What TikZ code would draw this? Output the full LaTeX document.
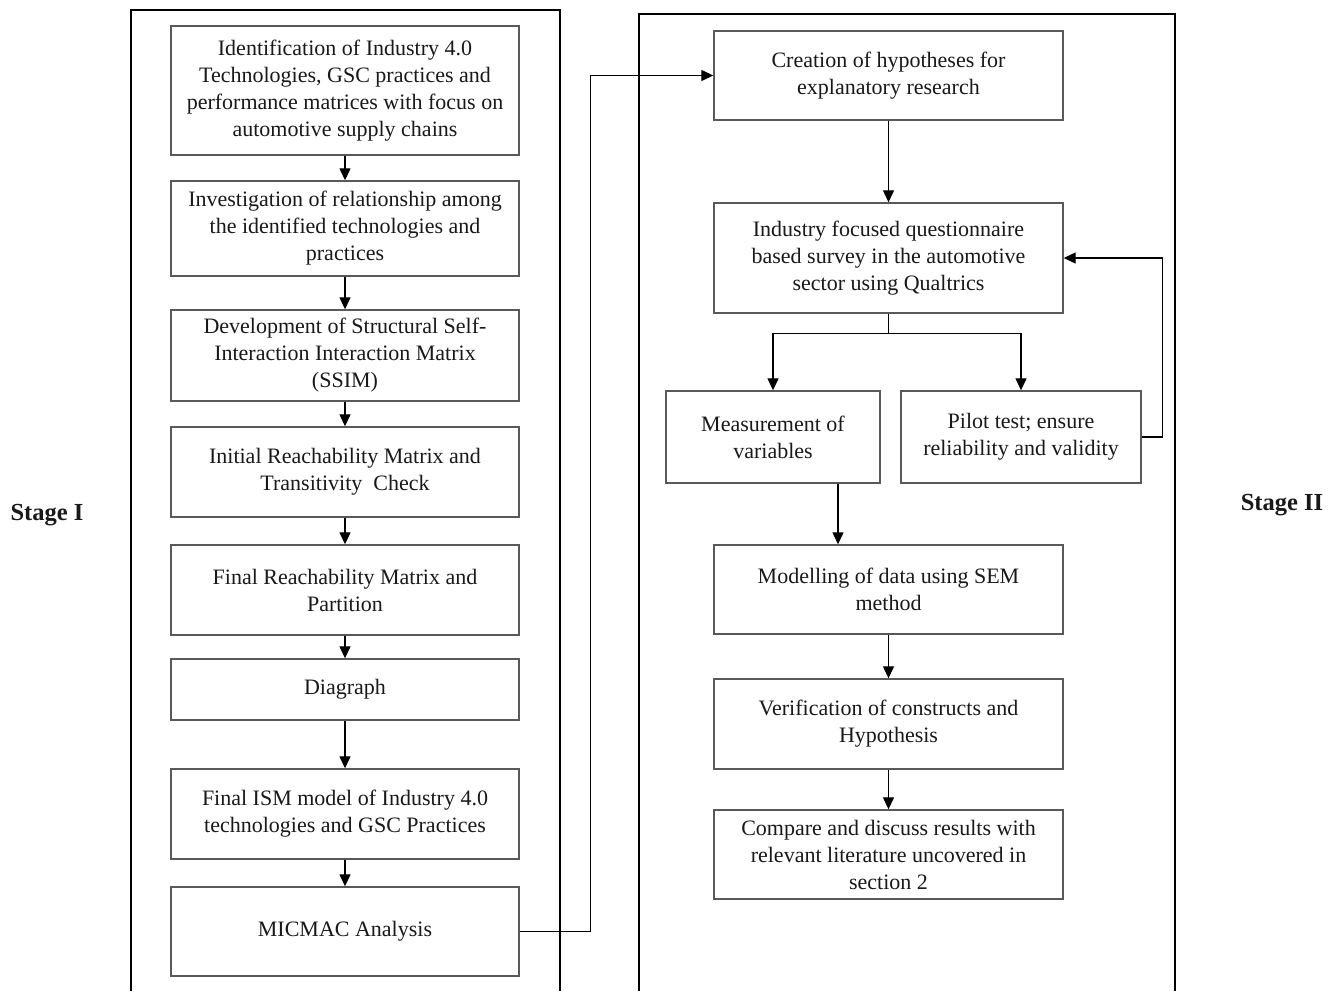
\documentclass[tikz,border=0pt]{standalone}
\usepackage{fontspec}
\setmainfont{Liberation Serif}
\usetikzlibrary{arrows.meta}

\begin{document}
\begin{tikzpicture}[x=1pt, y=-1pt]
        \tikzstyle{box}=[draw=black!65,line width=1.4pt,fill=white,text=black!90,align=center,inner sep=2pt,font=\fontsize{22}{27}\selectfont]
        \tikzstyle{frame}=[draw=black,line width=2.4pt]
        \tikzstyle{flow}=[draw=black,line width=1.3pt,-{Triangle[length=12pt,width=11pt]}]
        \tikzstyle{stage}=[font=\fontsize{24.5}{28}\selectfont\bfseries,text=black!90]

        \useasboundingbox (0,0) rectangle (1338,991);

        \draw[frame] (131,991) -- (131,10) -- (560,10) -- (560,991);
        \draw[frame] (639,991) -- (639,14) -- (1175,14) -- (1175,991);

        \node[stage] (stage_1) at (47,515) {Stage I};
        \node[stage] (stage_2) at (1282,505) {Stage II};

        \node[box,minimum width=348pt,minimum height=129pt] (S_1) at (345,90.5) {Identification of Industry 4.0\\Technologies, GSC practices and\\performance matrices with focus on\\automotive supply chains};
        \node[box,minimum width=348pt,minimum height=95pt] (S_2) at (345,228.5) {Investigation of relationship among\\the identified technologies and\\practices};
        \node[box,minimum width=348pt,minimum height=91pt] (S_3) at (345,355.5) {Development of Structural Self-\\Interaction Interaction Matrix\\(SSIM)};
        \node[box,minimum width=348pt,minimum height=90pt] (S_4) at (345,472) {Initial Reachability Matrix and\\Transitivity~ Check};
        \node[box,minimum width=348pt,minimum height=90pt] (S_5) at (345,590) {Final Reachability Matrix and\\Partition};
        \node[box,minimum width=348pt,minimum height=61pt] (S_6) at (345,689.5) {Diagraph};
        \node[box,minimum width=348pt,minimum height=90pt] (S_7) at (345,814) {Final ISM model of Industry 4.0\\technologies and GSC Practices};
        \node[box,minimum width=348pt,minimum height=89pt] (S_8) at (345,931.5) {MICMAC Analysis};

        \node[box,minimum width=349pt,minimum height=89pt] (T_1) at (888.5,75.5) {Creation of hypotheses for\\explanatory research};
        \node[box,minimum width=349pt,minimum height=110pt] (T_2) at (888.5,258) {Industry focused questionnaire\\based survey in the automotive\\sector using Qualtrics};
        \node[box,minimum width=214pt,minimum height=92pt] (T_3) at (773,437) {Measurement of\\variables};
        \node[box,minimum width=240pt,minimum height=92pt] (T_4) at (1021,437) {Pilot test; ensure\\reliability and validity};
        \node[box,minimum width=349pt,minimum height=89pt] (T_5) at (888.5,589.5) {Modelling of data using SEM\\method};
        \node[box,minimum width=349pt,minimum height=90pt] (T_6) at (888.5,724) {Verification of constructs and\\Hypothesis};
        \node[box,minimum width=349pt,minimum height=89pt] (T_7) at (888.5,854.5) {Compare and discuss results with\\relevant literature uncovered in\\section 2};

        \foreach \i/\j in {1/2,2/3,3/4,4/5,5/6,6/7,7/8}
            \draw[flow] (S_\i) -- (S_\j);

        \draw[flow] (S_8.east) -- ++(71,0) |- (T_1.west);
        \draw[flow] (T_1) -- (T_2);
        \draw[draw=black,line width=1.3pt] (T_2.south) -- ++(0,20) coordinate (J);
        \draw[flow] (J) -| (T_3.north);
        \draw[flow] (J) -| (T_4.north);
        \draw[flow] (T_4.east) -- ++(21,0) |- (T_2.east);
        \draw[flow] ([xshift=65pt]T_3.south) -- ([xshift=65pt]T_3.south |- T_5.north);
        \draw[flow] (T_5) -- (T_6);
        \draw[flow] (T_6) -- (T_7);
    \end{tikzpicture}
\end{document}
